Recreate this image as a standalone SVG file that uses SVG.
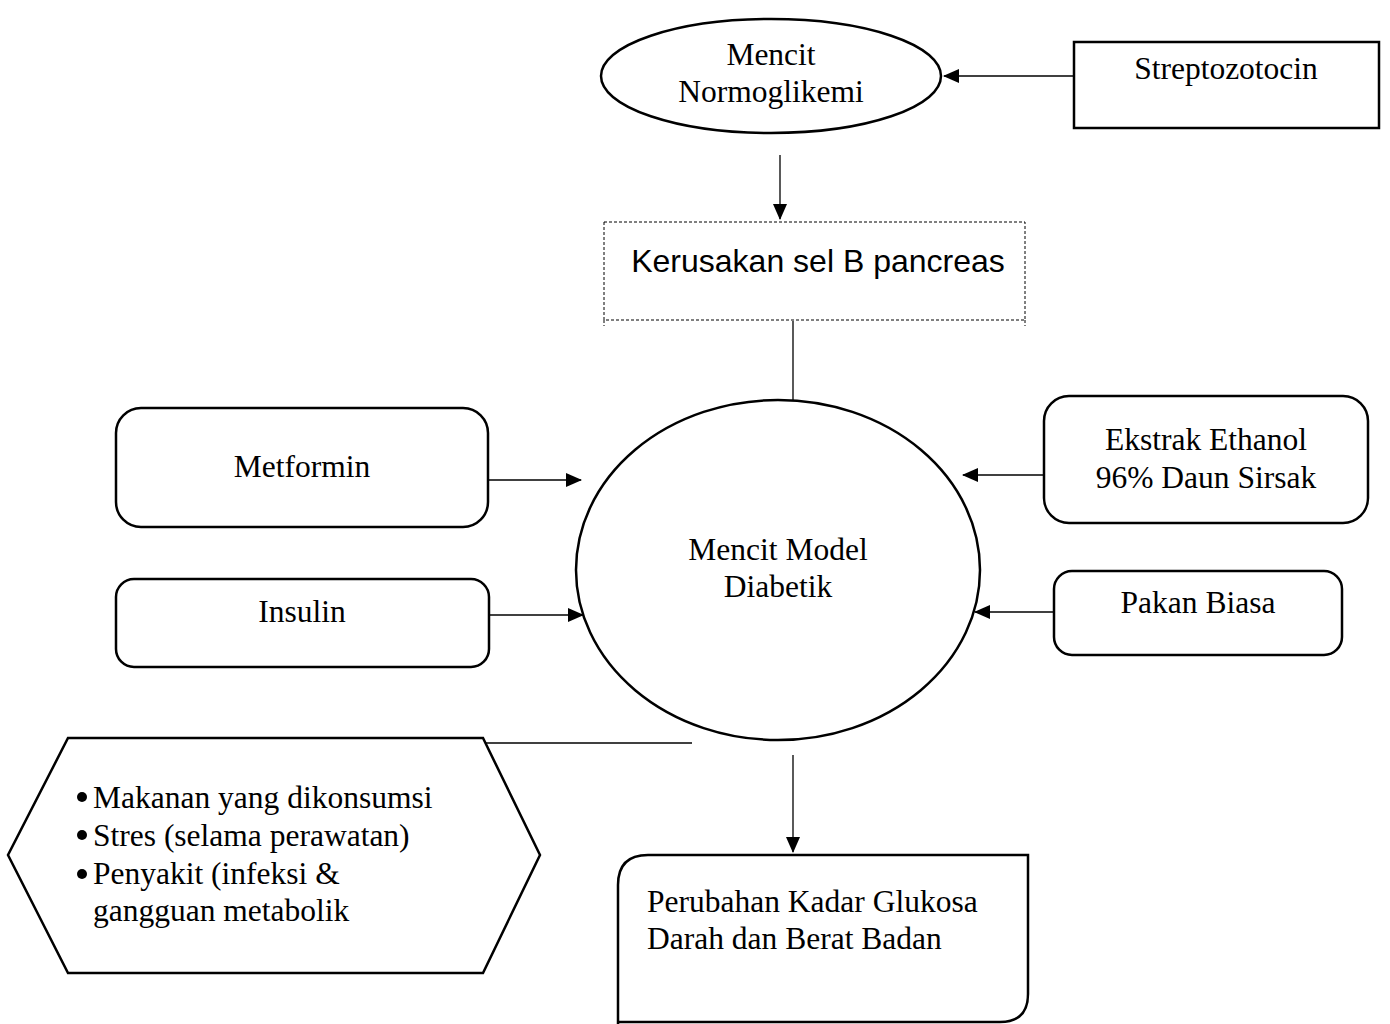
<svg xmlns="http://www.w3.org/2000/svg" width="1390" height="1024" viewBox="0 0 1390 1024">
<style>
.s{fill:#fff;stroke:#000;stroke-width:2.5}
.t{font-family:"Liberation Serif","Times New Roman",serif;font-size:31.5px;fill:#000}
.c{stroke:#000;stroke-width:1.3;fill:none}
</style>
<defs>
<marker id="a" markerWidth="16" markerHeight="14" refX="15" refY="7" orient="auto" markerUnits="userSpaceOnUse">
<path d="M0,0 L16,7 L0,14 Z" fill="#000"/>
</marker>
</defs>
<rect width="1390" height="1024" fill="#fff"/>
<g id="connectors">
<line class="c" x1="1074" y1="76" x2="944" y2="76" marker-end="url(#a)"/>
<line class="c" x1="780" y1="155" x2="780" y2="219" marker-end="url(#a)"/>
<line class="c" x1="793" y1="321" x2="793" y2="400"/>
<line class="c" x1="488" y1="480" x2="581" y2="480" marker-end="url(#a)"/>
<line class="c" x1="489" y1="615" x2="583" y2="615" marker-end="url(#a)"/>
<line class="c" x1="1044" y1="475" x2="963" y2="475" marker-end="url(#a)"/>
<line class="c" x1="1054" y1="612" x2="975" y2="612" marker-end="url(#a)"/>
<line class="c" x1="483" y1="743" x2="692" y2="743"/>
<line class="c" x1="793" y1="755" x2="793" y2="852" marker-end="url(#a)"/>
</g>
<g id="normo">
<ellipse class="s" cx="771" cy="76" rx="170" ry="57"/>
<text class="t" x="771" y="65" text-anchor="middle">Mencit</text>
<text class="t" x="771" y="102" text-anchor="middle">Normoglikemi</text>
</g>
<g id="strepto">
<rect class="s" x="1074" y="42" width="305" height="86"/>
<text class="t" x="1226" y="79" text-anchor="middle">Streptozotocin</text>
</g>
<g id="kerusakan">
<rect x="604" y="222" width="421" height="98" fill="#fff" stroke="#000" stroke-width="1" stroke-dasharray="3,2"/>
<line x1="604" y1="320" x2="604" y2="326" stroke="#000" stroke-width="1" stroke-dasharray="3,2"/>
<line x1="1025" y1="320" x2="1025" y2="326" stroke="#000" stroke-width="1" stroke-dasharray="3,2"/>
<text x="818" y="272" text-anchor="middle" font-family="'Liberation Sans',Arial,sans-serif" font-size="32">Kerusakan sel B pancreas</text>
</g>
<g id="model">
<ellipse class="s" cx="778" cy="570" rx="202" ry="170"/>
<text class="t" x="778" y="560" text-anchor="middle">Mencit Model</text>
<text class="t" x="778" y="597" text-anchor="middle">Diabetik</text>
</g>
<g id="metformin">
<rect class="s" x="116" y="408" width="372" height="119" rx="25"/>
<text class="t" x="302" y="477" text-anchor="middle">Metformin</text>
</g>
<g id="insulin">
<rect class="s" x="116" y="579" width="373" height="88" rx="18"/>
<text class="t" x="302" y="622" text-anchor="middle">Insulin</text>
</g>
<g id="ekstrak">
<rect class="s" x="1044" y="396" width="324" height="127" rx="25"/>
<text class="t" x="1206" y="450" text-anchor="middle">Ekstrak Ethanol</text>
<text class="t" x="1206" y="488" text-anchor="middle">96% Daun Sirsak</text>
</g>
<g id="pakan">
<rect class="s" x="1054" y="571" width="288" height="84" rx="18"/>
<text class="t" x="1198" y="613" text-anchor="middle">Pakan Biasa</text>
</g>
<g id="faktor">
<polygon class="s" points="68,738 483,738 540,855 483,973 68,973 8,855"/>
<circle cx="82" cy="797" r="5"/>
<circle cx="82" cy="835" r="5"/>
<circle cx="82" cy="874" r="5"/>
<text class="t" x="93" y="808">Makanan yang dikonsumsi</text>
<text class="t" x="93" y="846">Stres (selama perawatan)</text>
<text class="t" x="93" y="884">Penyakit (infeksi &amp;</text>
<text class="t" x="93" y="921">gangguan metabolik</text>
</g>
<g id="perubahan">
<path class="s" d="M618,1024 L618,885 Q618,855 648,855 L1028,855 L1028,994 Q1028,1022 1000,1022 L618,1022"/>
<text class="t" x="647" y="912">Perubahan Kadar Glukosa</text>
<text class="t" x="647" y="949">Darah dan Berat Badan</text>
</g>
</svg>
